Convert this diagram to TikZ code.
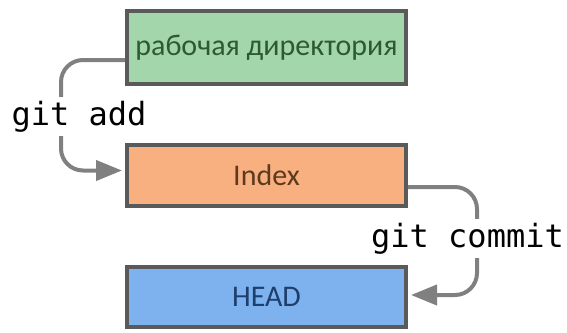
\documentclass[tikz,border=0pt]{standalone}
\usepackage{fontspec}
\setmainfont{Carlito}
\setmonofont{DejaVu Sans Mono}
\usetikzlibrary{arrows.meta}
\definecolor{workfill}{HTML}{A4D6AB}
\definecolor{worktext}{HTML}{2E5A32}
\definecolor{indexfill}{HTML}{F9B080}
\definecolor{indextext}{HTML}{5C3A1E}
\definecolor{headfill}{HTML}{7DB2EE}
\definecolor{headtext}{HTML}{1E3F6E}
\definecolor{boxline}{HTML}{5A5A5A}
\definecolor{flowline}{HTML}{808080}
\begin{document}
\begin{tikzpicture}[x=0.5pt, y=-0.5pt,
  area/.style={draw=boxline, line width=2pt, minimum width=139.5pt, font=\fontsize{15}{18}\selectfont},
  flow/.style={draw=flowline, line width=2pt, rounded corners=11pt, -{Triangle[length=13pt,width=10pt]}, shorten >=1.5pt},
  cmd/.style={fill=white, inner sep=2pt, anchor=base, font=\ttfamily\fontsize{16}{19}\selectfont}]
\useasboundingbox (0,0) rectangle (567,332);
\node[area, fill=workfill, text=worktext, minimum height=36.5pt] (work) at (266.5,47.5) {рабочая директория};
\node[area, fill=indexfill, text=indextext, minimum height=30.5pt] (index) at (266.5,175.5) {Index};
\node[area, fill=headfill, text=headtext, minimum height=30pt] (head) at (266.5,297) {HEAD};
\coordinate (addturn) at (61,114);
\coordinate (committurn) at (477,236);
\draw[flow] ([yshift=-6.25pt]work.west) -| (addturn) |- ([yshift=2.5pt]index.west);
\draw[flow] ([yshift=-5.75pt]index.east) -| (committurn) |- ([yshift=1pt]head.east);
\node[cmd] (add) at (79,125) {git add};
\node[cmd] (commit) at (467.5,247) {git commit};
\end{tikzpicture}
\end{document}
